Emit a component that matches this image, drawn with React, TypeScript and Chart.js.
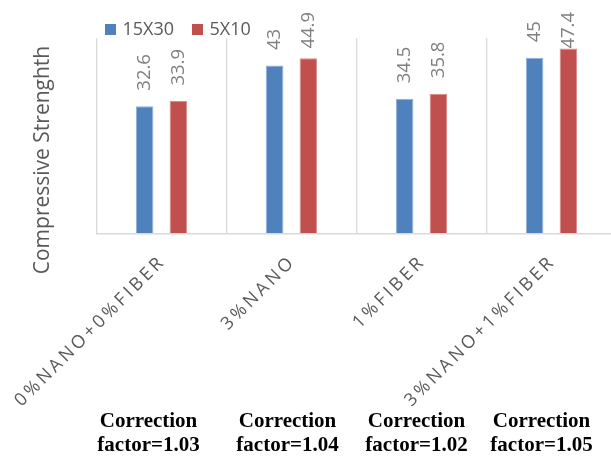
import React, { useEffect, useRef } from "react";
import { Chart, registerables } from "chart.js";

Chart.register(...registerables);

// Mix designs along the x axis
const categories = ["0%NANO+0%FIBER", "3%NANO", "1%FIBER", "3%NANO+1%FIBER"];
// Compressive strength per specimen size
const series15x30 = [32.6, 43, 34.5, 45];
const series5x10 = [33.9, 44.9, 35.8, 47.4];
const seriesNames = ["15X30", "5X10"];
// Correction factor shown under each mix
const correctionFactors = ["1.03", "1.04", "1.02", "1.05"];

const BLUE = "#4F81BD";
const RED = "#C0504D";
const GRAY_TEXT = "#595959";
const LABEL_TEXT = "#7F7F7F";
const GRID = "#D9D9D9";

// horizontal nudges of the correction notes relative to each category centre
const noteShift = [-13, -4, -5, -10];

const annotations = {
  id: "annotations",
  afterDatasetsDraw(chart: any) {
    const ctx: CanvasRenderingContext2D = chart.ctx;

    // value labels, rotated, above each bar
    ctx.save();
    ctx.font = "18.5px 'Open Sans'";
    ctx.fillStyle = LABEL_TEXT;
    ctx.textAlign = "left";
    ctx.textBaseline = "middle";
    chart.data.datasets.forEach((ds: any, di: number) => {
      const meta = chart.getDatasetMeta(di);
      meta.data.forEach((el: any, i: number) => {
        const text = String(ds.data[i]);
        const w = ctx.measureText(text).width;
        let start = el.y - 15.5;
        if (start - w < 12) start = 12 + w;
        ctx.save();
        ctx.translate(el.x, start);
        ctx.rotate(-Math.PI / 2);
        ctx.fillText(text, 0, 0);
        ctx.restore();
      });
    });
    ctx.restore();
  },
  afterDraw(chart: any) {
    const ctx: CanvasRenderingContext2D = chart.ctx;
    const xScale = chart.scales.x;

    // legend
    ctx.save();
    ctx.font = "18px 'Open Sans'";
    ctx.textBaseline = "middle";
    ctx.textAlign = "left";
    const legendColors = [BLUE, RED];
    const legendX = [105, 192];
    seriesNames.forEach((name, i) => {
      ctx.fillStyle = legendColors[i];
      ctx.fillRect(legendX[i], 24, 11, 11);
      ctx.fillStyle = GRAY_TEXT;
      ctx.fillText(name, legendX[i] + 17.5, 29.5);
    });
    ctx.restore();

    // y axis title
    ctx.save();
    ctx.font = "21px 'Open Sans'";
    ctx.fillStyle = GRAY_TEXT;
    ctx.textAlign = "center";
    ctx.textBaseline = "middle";
    ctx.translate(43, 160);
    ctx.rotate(-Math.PI / 2);
    ctx.fillText("Compressive Strenghth", 0, 0);
    ctx.restore();

    // category labels, slanted with wide tracking
    ctx.save();
    ctx.font = "18px 'Open Sans'";
    ctx.fillStyle = GRAY_TEXT;
    ctx.textAlign = "right";
    ctx.textBaseline = "middle";
    const spacing = 3.2;
    (ctx as any).letterSpacing = spacing + "px";
    categories.forEach((cat, i) => {
      const x = xScale.getPixelForValue(i);
      ctx.save();
      ctx.translate(x - 1, 261);
      ctx.rotate(-Math.PI / 4);
      ctx.fillText(cat, spacing, 0);
      ctx.restore();
    });
    ctx.restore();

    // correction factor notes
    ctx.save();
    ctx.font = "bold 21px 'Liberation Serif', 'Times New Roman', serif";
    ctx.fillStyle = "#000";
    ctx.textAlign = "center";
    ctx.textBaseline = "alphabetic";
    correctionFactors.forEach((f, i) => {
      const x = xScale.getPixelForValue(i) + noteShift[i];
      ctx.fillText("Correction", x, 427);
      ctx.fillText("factor=" + f, x, 451);
    });
    ctx.restore();
  },
};

export default function App() {
  const canvasRef = useRef<HTMLCanvasElement | null>(null);

  useEffect(() => {
    const canvas = canvasRef.current;
    if (!canvas) return;
    const chart = new Chart(canvas, {
      type: "bar",
      data: {
        labels: categories,
        datasets: [
          {
            label: seriesNames[0],
            data: series15x30,
            backgroundColor: BLUE,
            borderColor: "#8EAEDA",
            borderWidth: 1,
            categoryPercentage: 0.52,
            barPercentage: 0.52,
          },
          {
            label: seriesNames[1],
            data: series5x10,
            backgroundColor: RED,
            borderColor: "#DB8C8A",
            borderWidth: 1,
            categoryPercentage: 0.52,
            barPercentage: 0.52,
          },
        ],
      },
      options: {
        responsive: false,
        animation: false,
        layout: { padding: { left: 96.5, right: 23.5, top: 38.3, bottom: 222.7 } },
        plugins: {
          legend: { display: false },
          tooltip: { enabled: false },
          title: { display: false },
        },
        scales: {
          x: {
            display: true,
            ticks: { display: false },
            grid: {
              display: true,
              offset: true,
              color: GRID,
              lineWidth: 1.3,
              drawTicks: false,
            },
            border: { display: true, color: GRID, width: 1.5 },
          },
          y: {
            display: false,
            min: 0,
            max: 50,
          },
        },
      },
      plugins: [annotations],
    });
    return () => chart.destroy();
  }, []);

  return (
    <div
      style={{
        position: "absolute",
        left: 0,
        top: 0,
        width: 611,
        height: 456,
        overflow: "hidden",
        background: "#fff",
      }}
    >
      <canvas ref={canvasRef} width={640} height={456} style={{ display: "block", width: 640, height: 456 }} />
    </div>
  );
}
